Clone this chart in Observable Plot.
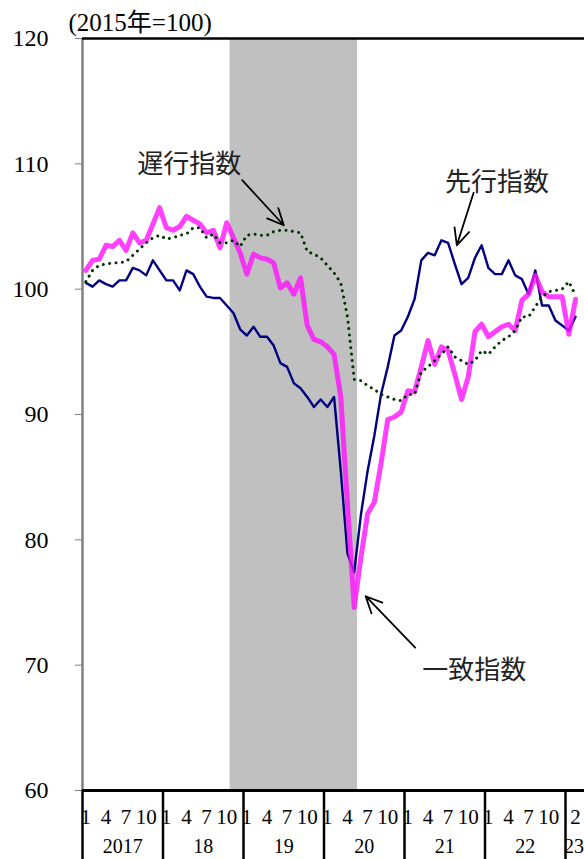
<!DOCTYPE html>
<html><head><meta charset="utf-8">
<script src="https://cdn.jsdelivr.net/npm/d3@7"></script>
<script src="https://cdn.jsdelivr.net/npm/@observablehq/plot@0.6"></script>
<style>body{margin:0;background:#fff}</style>
</head><body><div id="chart"></div>
<script>
// Monthly series, Jan 2017 .. Feb 2023 (2015 = 100)
const startYear = 2017;
const leading = [
  100.5, 100.2, 100.7, 100.4, 100.2, 100.7, 100.7, 101.7, 101.5, 101.1, 102.3, 101.5,
  100.7, 100.7, 99.9, 101.5, 101.2, 100.2, 99.4, 99.3, 99.3, 98.7, 98.1, 96.8,
  96.3, 97.0, 96.2, 96.2, 95.5, 94.1, 93.8, 92.5, 92.1, 91.4, 90.6, 91.2,
  90.6, 91.4, 85.5, 78.9, 77.4, 82.0, 85.5, 88.3, 91.6, 93.8, 96.3, 96.7,
  97.8, 99.2, 102.3, 102.9, 102.7, 103.9, 103.7, 102.0, 100.4, 100.9, 102.5, 103.5,
  101.7, 101.2, 101.2, 102.3, 101.1, 100.8, 99.6, 101.5, 98.7, 98.7, 97.5, 97.1,
  96.7, 97.8
];
const coincident = [
  101.5, 102.3, 102.4, 103.5, 103.4, 103.9, 103.1, 104.5, 103.7, 103.9, 105.2, 106.5,
  104.9, 104.7, 105.0, 105.8, 105.5, 105.2, 104.5, 104.7, 103.3, 105.3, 104.1, 102.9,
  101.2, 102.8, 102.5, 102.4, 102.1, 100.1, 100.5, 99.6, 100.9, 97.1, 96.0, 95.8,
  95.4, 94.8, 91.4, 82.8, 74.6, 78.6, 82.1, 83.0, 86.1, 89.6, 89.8, 90.2,
  91.9, 91.8, 93.8, 95.9, 94.0, 95.4, 95.1, 93.2, 91.2, 93.0, 96.6, 97.2,
  96.2, 96.6, 97.0, 97.2, 96.7, 99.1, 99.6, 101.1, 99.8, 99.4, 99.4, 99.4,
  96.4, 99.2
];
const lagging = [
  100.6, 101.5, 101.9, 102.0, 102.1, 102.1, 102.2, 102.7, 103.2, 103.7, 104.1, 104.3,
  104.0, 104.1, 104.3, 104.4, 104.9, 104.9, 104.1, 104.4, 103.7, 103.7, 103.9, 103.4,
  104.3, 104.4, 104.3, 104.3, 104.6, 104.7, 104.7, 104.6, 104.5, 103.0, 102.8, 102.5,
  101.9, 101.3, 100.5, 97.8, 92.8, 92.7, 92.3, 92.0, 91.6, 91.4, 91.2, 91.1,
  91.6, 91.6, 93.4, 93.8, 94.3, 94.8, 95.4, 94.6, 94.3, 94.0, 94.3, 95.1,
  94.8, 95.4, 95.9, 96.2, 96.7, 97.8, 97.8, 98.6, 99.4, 99.8, 99.9, 100.0,
  100.6, 99.5
];
const years = [2017, 2018, 2019, 2020, 2021, 2022, 2023];
const yearLabels = ["2017", "18", "19", "20", "21", "22", "23"];
const monthLabelsByYear = [[1,4,7,10],[1,4,7,10],[1,4,7,10],[1,4,7,10],[1,4,7,10],[1,4,7,10],[2]];
const yTicks = [60, 70, 80, 90, 100, 110, 120];
const recession = [{startYear: 2018, startMonth: 11, endYear: 2020, endMonth: 5}];
const unitLabel = "(2015年=100)";
const seriesNames = ["先行指数", "一致指数", "遅行指数"];

// helpers
const idx = (y, m) => (y - startYear) * 12 + (m - 1);
const toRows = arr => arr.map((v, i) => ({t: i + 0.5, v}));
const xMax = 74.83;            // visible months on axis
const yBottom = 54.495;        // extends scale below 60 for the date table

const monthLabels = years.flatMap((y, k) =>
  monthLabelsByYear[k].map(m => ({t: idx(y, m) + 0.5, label: String(m)})));
const yearRows = years.map((y, k) => {
  const a = idx(y, 1), b = Math.min(idx(y, 1) + 12, xMax - 0.3);
  return {t: (a + b) / 2, label: yearLabels[k], start: a};
});

const annotations = [
  {label: seriesNames[2], tx: 15.9, ty: 109.9, x1: 23.8, y1: 108.7, x2: 30.0, y2: 105.1},
  {label: seriesNames[0], tx: 61.8, ty: 108.5, x1: 58.3, y1: 107.7, x2: 55.8, y2: 103.5},
  {label: seriesNames[1], tx: 58.4, ty: 69.6, x1: 49.6, y1: 71.4, x2: 42.2, y2: 75.5}
];

const serif = "'Liberation Serif', 'Noto Sans CJK JP', serif";
const sans = "'Noto Sans CJK JP', sans-serif";

const chart = Plot.plot({
  width: 584, height: 859,
  marginLeft: 82, marginRight: 0, marginTop: 38, marginBottom: 0,
  x: {domain: [0, xMax], axis: null},
  y: {domain: [yBottom, 120]},
  style: {fontFamily: serif, fontSize: "20px", background: "#fff", color: "#000", overflow: "visible"},
  marks: [
    Plot.rect(recession, {
      x1: d => idx(d.startYear, d.startMonth), x2: d => idx(d.endYear, d.endMonth) + 1,
      y1: 60, y2: 120, fill: "#c0c0c0"
    }),
    Plot.ruleX([0], {y1: 60, y2: 120, stroke: "#808080", strokeWidth: 2.5}),
    Plot.axisY(yTicks, {anchor: "left", tickSize: 7, tickPadding: 27, fontSize: 24, stroke: "#808080", fill: "#000"}),
    Plot.ruleY([120], {stroke: "#000", strokeWidth: 2.5}),
    Plot.ruleY([60], {stroke: "#000", strokeWidth: 3}),
    Plot.ruleX(yearRows, {x: "start", y1: yBottom, y2: 60, stroke: "#000", strokeWidth: 2.5}),
    Plot.text(monthLabels, {x: "t", y: 57.83, text: "label", fontSize: 21}),
    Plot.text(yearRows, {x: "t", y: 55.5, text: "label", fontSize: 20}),
    Plot.line(toRows(leading), {x: "t", y: "v", stroke: "#000080", strokeWidth: 2.4}),
    Plot.line(toRows(coincident), {x: "t", y: "v", stroke: "#ff10ff", strokeOpacity: 0.8, strokeWidth: 5}),
    Plot.line(toRows(lagging), {x: "t", y: "v", stroke: "#003300", strokeWidth: 3, strokeLinecap: "round", strokeDasharray: "0.01 6.4"}),
    Plot.arrow(annotations, {x1: "x1", y1: "y1", x2: "x2", y2: "y2", stroke: "#000", strokeWidth: 1.8, headLength: 15, headAngle: 50, bend: 0}),
    Plot.text(annotations, {x: "tx", y: "ty", text: "label", fontFamily: sans, fontSize: 26, fill: "#222"}),
    Plot.text([unitLabel], {frameAnchor: "top-left", dx: -14, dy: -16, lineAnchor: "middle", textAnchor: "start", fontSize: 25})
  ]
});
document.getElementById("chart").append(chart);
</script>
</body></html>
